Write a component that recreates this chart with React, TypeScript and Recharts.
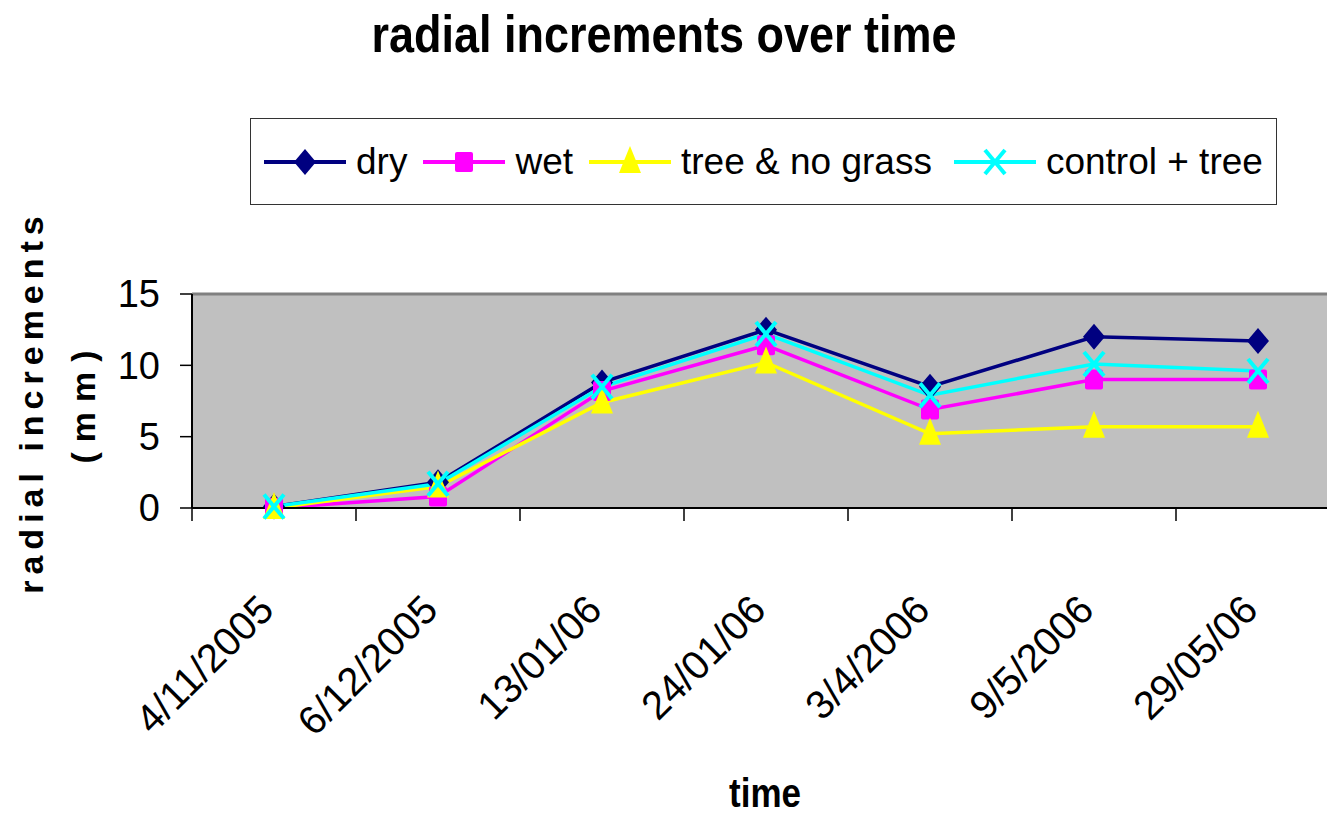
import { CartesianGrid, Legend, Line, LineChart, ReferenceLine, XAxis, YAxis } from 'recharts';

const dates = ['4/11/2005', '6/12/2005', '13/01/06', '24/01/06', '3/4/2006', '9/5/2006', '29/05/06'];
const dry = [0.1, 1.8, 8.8, 12.5, 8.5, 12.0, 11.7];
const wet = [0, 0.8, 8.2, 11.4, 6.9, 9.0, 9.0];
const treeNoGrass = [0, 1.5, 7.4, 10.2, 5.2, 5.7, 5.7];
const controlTree = [0.1, 1.7, 8.5, 12.2, 7.9, 10.1, 9.6];
const yTicks = [0, 5, 10, 15];

const series = [
  { key: 'dry', name: 'dry', color: '#000080', marker: 'diamond' },
  { key: 'wet', name: 'wet', color: '#FF00FF', marker: 'square' },
  { key: 'tree', name: 'tree & no grass', color: '#FFFF00', marker: 'triangle' },
  { key: 'control', name: 'control + tree', color: '#00FFFF', marker: 'cross' },
];

const data = dates.map((d, i) => ({
  date: d,
  dry: dry[i],
  wet: wet[i],
  tree: treeNoGrass[i],
  control: controlTree[i],
}));

const FONT = '"Liberation Sans", Arial, sans-serif';
const W = 1345;
const H = 814;
const ML = 0;
const MR = 5;
const YAW = 192;
const MT = 294;
const XAH = 120;
const MB = 186;
const AXIS_Y = H - MB - XAH;
const STEP = (W - ML - MR - YAW) / dates.length;

function Marker({ kind, cx, cy, color }: { kind: string; cx: number; cy: number; color: string }) {
  if (kind === 'diamond')
    return <polygon points={`${cx},${cy - 13} ${cx + 11},${cy} ${cx},${cy + 13} ${cx - 11},${cy}`} fill={color} />;
  if (kind === 'square')
    return <rect x={cx - 9} y={cy - 10} width={18} height={20} rx={2} fill={color} />;
  if (kind === 'triangle')
    return <polygon points={`${cx},${cy - 16} ${cx + 11},${cy + 11} ${cx - 11},${cy + 11}`} fill={color} />;
  return (
    <g stroke={color} strokeWidth={4}>
      <line x1={cx - 10} y1={cy - 12} x2={cx + 10} y2={cy + 12} />
      <line x1={cx - 10} y1={cy + 12} x2={cx + 10} y2={cy - 12} />
    </g>
  );
}

function XTick(props: any) {
  const { x, payload } = props;
  const ay = AXIS_Y + 104;
  const bx = x - STEP / 2;
  return (
    <g>
      <line x1={bx} y1={AXIS_Y} x2={bx} y2={AXIS_Y + 13} stroke="#000" strokeWidth={1.5} />
      <text
        x={x + 2}
        y={ay}
        transform={`rotate(-45, ${x + 2}, ${ay})`}
        textAnchor="end"
        fontSize={40}
        fontFamily={FONT}
        fill="#000"
      >
        {payload.value}
      </text>
    </g>
  );
}

function LegendBox() {
  return (
    <div
      style={{
        width: 1027,
        height: 87,
        boxSizing: 'border-box',
        border: '1.5px solid #333',
        background: '#fff',
        display: 'flex',
        alignItems: 'center',
        paddingLeft: 13,
        fontFamily: FONT,
        fontSize: 37,
        color: '#000',
      }}
    >
      {series.map((s, i) => (
        <div key={s.key} style={{ display: 'flex', alignItems: 'center', marginLeft: i === 0 ? 0 : i === 3 ? 22 : 16 }}>
          <svg width={82} height={34}>
            <line x1={0} y1={17} x2={82} y2={17} stroke={s.color} strokeWidth={4} />
            <Marker kind={s.marker} cx={41} cy={17} color={s.color} />
          </svg>
          <span style={{ marginLeft: 10, lineHeight: 1 }}>{s.name}</span>
        </div>
      ))}
    </div>
  );
}

export default function App() {
  return (
    <div style={{ position: 'absolute', left: 0, top: 0, width: 1327, height: 814, overflow: 'hidden', background: '#fff' }}>
      <svg width={1327} height={80} style={{ position: 'absolute', left: 0, top: 0 }}>
        <text
          x={664}
          y={52}
          textAnchor="middle"
          fontSize={52}
          fontWeight="bold"
          fontFamily={FONT}
          textLength={585}
          lengthAdjust="spacingAndGlyphs"
        >
          radial increments over time
        </text>
      </svg>
      <LineChart
        width={W}
        height={H}
        data={data}
        margin={{ top: MT, right: MR, bottom: MB, left: ML }}
        style={{ position: 'absolute', left: 0, top: 0 }}
      >
        <CartesianGrid horizontal={false} vertical={false} fill="#C0C0C0" fillOpacity={1} />
        <ReferenceLine y={15} stroke="#808080" strokeWidth={3} />
        <XAxis
          dataKey="date"
          scale="band"
          height={XAH}
          interval={0}
          tickLine={false}
          axisLine={{ stroke: '#000', strokeWidth: 2 }}
          tick={<XTick />}
          label={{
            content: () => (
              <text x={765} y={807} textAnchor="middle" fontSize={40} fontWeight="bold" fontFamily={FONT} textLength={72} lengthAdjust="spacingAndGlyphs">
                time
              </text>
            ),
          }}
        />
        <YAxis
          width={YAW}
          domain={[0, 15]}
          ticks={yTicks}
          interval={0}
          tickSize={12}
          tickMargin={20}
          tickLine={{ stroke: '#000', strokeWidth: 1.5 }}
          axisLine={{ stroke: '#000', strokeWidth: 2 }}
          tick={{ fontSize: 38, fill: '#000', fontFamily: FONT }}
          label={{
            content: () => (
              <g fontFamily={FONT} fontWeight="bold" fontSize={34} fill="#000">
                <text x={43} y={402} transform="rotate(-90, 43, 402)" textAnchor="middle" letterSpacing={6}>
                  radial increments
                </text>
                <text x={95} y={402} transform="rotate(-90, 95, 402)" textAnchor="middle" letterSpacing={10}>
                  (mm)
                </text>
              </g>
            ),
          }}
        />
        <Legend
          verticalAlign="middle"
          align="center"
          content={<LegendBox />}
          wrapperStyle={{ position: 'absolute', left: 250, top: 118, width: 1027, height: 87 }}
        />
        {series.map((s) => (
          <Line
            key={s.key}
            dataKey={s.key}
            name={s.name}
            stroke={s.color}
            strokeWidth={3.5}
            isAnimationActive={false}
            dot={(p: any) => <Marker key={`${s.key}-${p.index}`} kind={s.marker} cx={p.cx} cy={p.cy} color={s.color} />}
            activeDot={false}
          />
        ))}
      </LineChart>
    </div>
  );
}
